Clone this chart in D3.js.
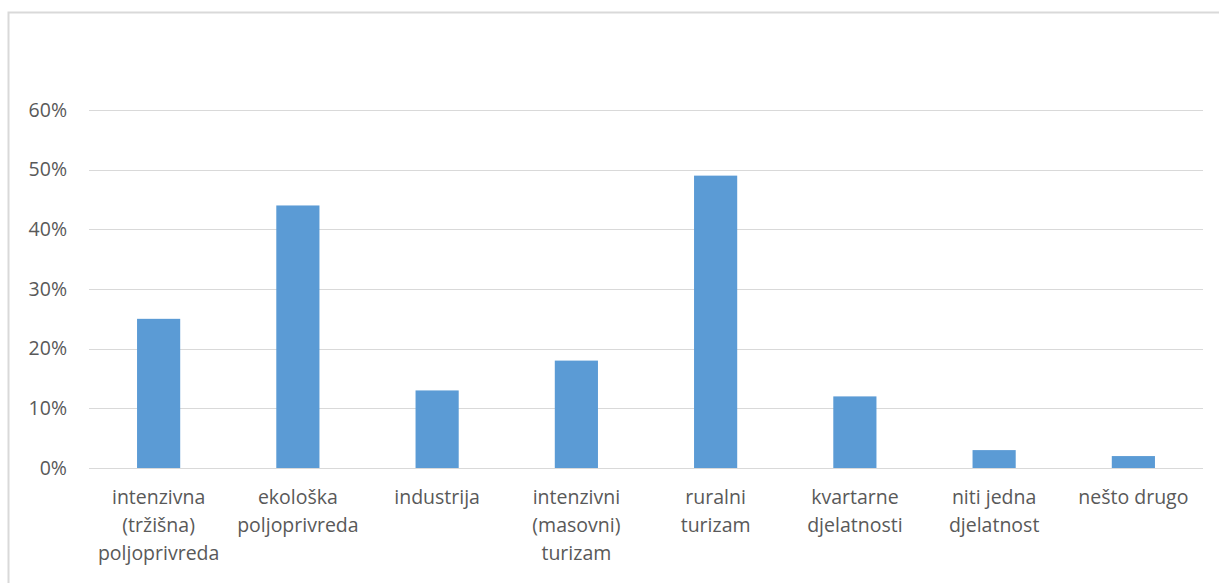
<!DOCTYPE html>
<html>
<head>
<meta charset="utf-8">
<script src="https://cdn.jsdelivr.net/npm/d3@7"></script>
<style>
  body { margin: 0; background: #fff; }
  svg text { font-family: "Open Sans", "Liberation Sans", sans-serif; fill: #595959; }
</style>
</head>
<body>
<svg id="chart" width="1219" height="583"></svg>
<script>
const categories = [
  ["intenzivna", "(tržišna)", "poljoprivreda"],
  ["ekološka", "poljoprivreda"],
  ["industrija"],
  ["intenzivni", "(masovni)", "turizam"],
  ["ruralni", "turizam"],
  ["kvartarne", "djelatnosti"],
  ["niti jedna", "djelatnost"],
  ["nešto drugo"]
];
const values = [0.25, 0.44, 0.13, 0.18, 0.49, 0.12, 0.03, 0.02];
const yTicks = [0, 0.1, 0.2, 0.3, 0.4, 0.5, 0.6];

const svg = d3.select('#chart');

// outer frame
svg.append('rect')
  .attr('x', 8.5).attr('y', 12.5)
  .attr('width', 1240).attr('height', 600)
  .attr('fill', 'none')
  .attr('stroke', '#d9d9d9')
  .attr('stroke-width', 2);

const plotLeft = 89, plotRight = 1203, plotTop = 110, plotBottom = 468;

const x = d3.scaleBand()
  .domain(d3.range(categories.length))
  .range([plotLeft, plotRight])
  .paddingInner(0.69)
  .paddingOuter(0.345);

const y = d3.scaleLinear().domain([0, 0.6]).range([plotBottom, plotTop]);

// gridlines
svg.append('g')
  .selectAll('line')
  .data(yTicks)
  .join('line')
  .attr('x1', plotLeft).attr('x2', plotRight)
  .attr('y1', d => Math.round(y(d)) + 0.5)
  .attr('y2', d => Math.round(y(d)) + 0.5)
  .attr('stroke', '#d9d9d9')
  .attr('stroke-width', 1);

// y labels
svg.append('g')
  .selectAll('text')
  .data(yTicks)
  .join('text')
  .attr('x', 67)
  .attr('y', d => y(d))
  .attr('dy', '0.35em')
  .attr('text-anchor', 'end')
  .attr('font-size', 19.5)
  .text(d3.format('.0%'));

// bars
svg.append('g')
  .selectAll('rect')
  .data(values)
  .join('rect')
  .attr('x', (d, i) => x(i))
  .attr('width', x.bandwidth())
  .attr('y', d => y(d))
  .attr('height', d => y(0) - y(d))
  .attr('fill', '#5b9bd5');

// x labels
const lbl = svg.append('g')
  .selectAll('text')
  .data(categories)
  .join('text')
  .attr('text-anchor', 'middle')
  .attr('font-size', 19.5)
  .attr('x', (d, i) => x(i) + x.bandwidth() / 2)
  .attr('y', 504);

lbl.selectAll('tspan')
  .data(d => d)
  .join('tspan')
  .attr('x', function () { return d3.select(this.parentNode).attr('x'); })
  .attr('dy', (d, i) => i === 0 ? 0 : 28)
  .text(d => d);
</script>
</body>
</html>
